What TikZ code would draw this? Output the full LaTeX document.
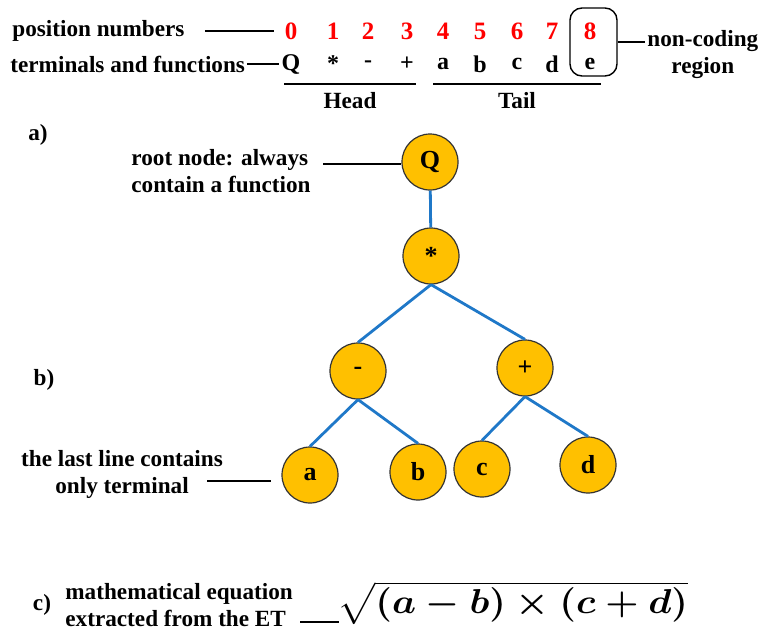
\documentclass[tikz,border=0pt]{standalone}
\usepackage{amsmath}
\usepackage{fontspec}
\setmainfont{Liberation Serif}
\usetikzlibrary{positioning}
\definecolor{treeBlue}{HTML}{1F78C8}
\definecolor{nodeGold}{HTML}{FFC000}
\newcommand{\etformula}{\scalebox{1.1}[1]{\boldmath$\sqrt{(a-b)\times(c+d)}$}}

\tikzset{
  lbl/.style={font=\bfseries\fontsize{11.6}{13.5}\selectfont, inner sep=1pt},
  gene/.style={font=\bfseries\fontsize{12}{14}\selectfont, inner sep=1pt},
  posnum/.style={font=\bfseries\fontsize{12.5}{14}\selectfont, text=red, inner sep=1pt},
  etnode/.style={circle, draw=black!80, line width=0.6pt, fill=nodeGold,
                 minimum size=28pt, inner sep=0pt, font=\bfseries\fontsize{13}{14}\selectfont},
  treeline/.style={treeBlue, line width=1.4pt},
  lead/.style={black, line width=0.7pt},
  formula/.style={font=\fontsize{16.5}{18}\selectfont, inner sep=0pt},
}

\begin{document}
\begin{tikzpicture}[x=0.5pt, y=-0.5pt]
  \useasboundingbox (0,0) rectangle (772,638);

  % gene string: position numbers and symbols
  \foreach \i/\x/\s in {0/291/Q, 1/333/*, 2/368/-, 3/407/+, 4/443/a,
                        5/480/b, 6/517/c, 7/552/d, 8/590/e} {
    \node[posnum] (p\i) at (\x,31) {\i};
    \node[gene] (s\i) at (\x,64) {\s};
  }
  \node[lbl, anchor=west] (poslbl) at (10,31) {position numbers};
  \node[lbl, anchor=west] (symlbl) at (8,64) {terminals and functions};
  \draw[lead, shorten <=9pt] (poslbl.east) -- ([xshift=-4pt]p0.west);
  \draw[lead] (symlbl.east) -- (s0.west);

  \node[draw, rounded corners=6pt, line width=0.7pt, minimum width=23.5pt,
        minimum height=34pt] (ncbox) at (593.5,42) {};
  \node[lbl, align=center, anchor=west] (nclbl) at (645,54.5) {non-coding\\region};
  \draw[lead] (ncbox.east) -- (ncbox.east -| nclbl.west);

  \node[lbl] (head) at (350,101) {Head};
  \node[lbl] (tail) at (517,101) {Tail};
  \draw[lead] (284,84) -- (416,84);
  \draw[lead] (433,84) -- (601,84);

  % expression tree
  \node[lbl] (lbla) at (38,135) {a)};
  \node[etnode] (Q) at (430,162) {Q};
  \node[etnode] (star) at (431,256) {*};
  \node[etnode] (minus) at (358,371) {-};
  \node[etnode] (plus) at (525,368) {+};
  \node[etnode] (ta) at (310,475) {a};
  \node[etnode] (tb) at (418,472) {b};
  \node[etnode] (tc) at (482,469) {c};
  \node[etnode] (td) at (588,465) {d};

  \draw[treeline] (Q) -- (star);
  \draw[treeline] (star.south) -- (minus.north);
  \draw[treeline] (star.south) -- (plus.north);
  \draw[treeline] (minus.south) -- (ta.north);
  \draw[treeline] (minus.south) -- (tb.north);
  \draw[treeline] (plus.south) -- (tc.north);
  \draw[treeline] (plus.south) -- (td.north);

  \node[lbl, align=left, anchor=east] (rootlbl) at (313,171) {root node: always\\contain a function};
  \draw[lead, shorten >=5pt] ([yshift=-1pt]Q.west) -- ([yshift=-1pt]Q.west -| rootlbl.east);

  \node[lbl] (lblb) at (44,380) {b)};
  \node[lbl, align=center] (lastlbl) at (122,474) {the last line contains\\only terminal};
  \coordinate (lastlead) at (207,481);
  \draw[lead] (lastlead) -- ([xshift=-5pt, yshift=-3pt]ta.west);

  % equation
  \node[lbl] (lblc) at (42,605) {c)};
  \node[lbl, align=left, anchor=west] (eqlbl) at (63,605) {mathematical equation\\extracted from the ET};
  \node[formula, anchor=west] (formula) at (337,603) {\etformula};
  \coordinate (eqlead) at (300,622);
  \draw[lead] (eqlead) -- ([xshift=1pt]eqlead -| formula.west);
\end{tikzpicture}
\end{document}
